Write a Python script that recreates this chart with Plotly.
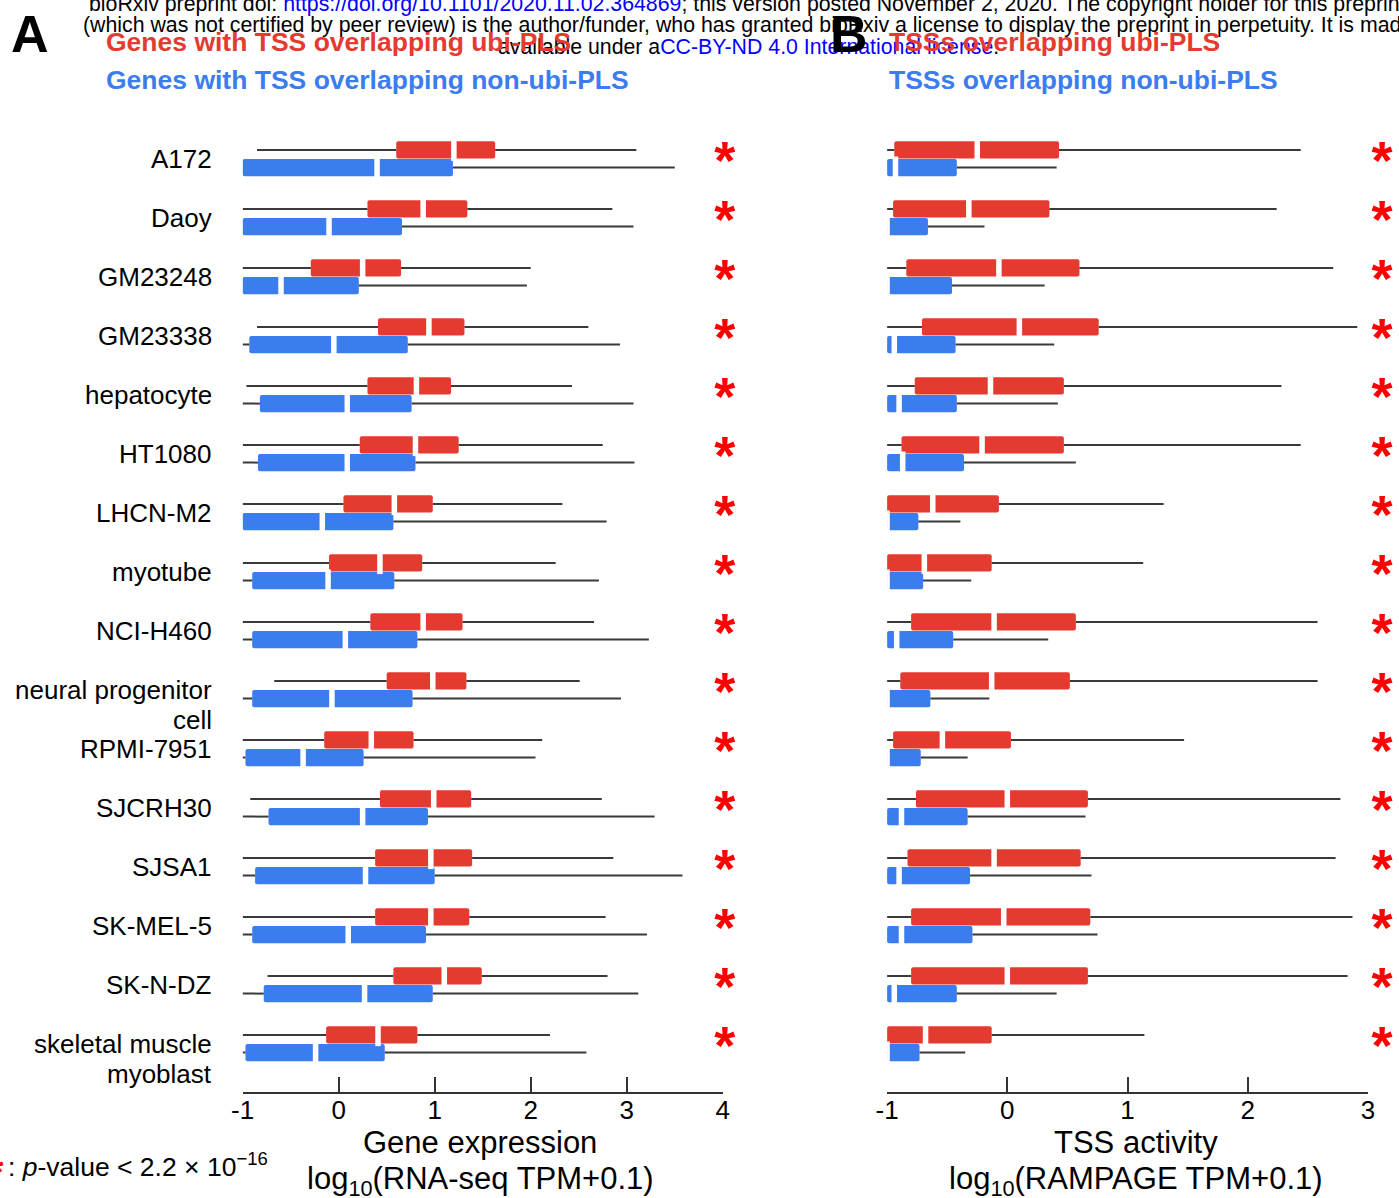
import plotly.graph_objects as go

W, H = 1399, 1198
FONT = "Liberation Sans, Arial, Helvetica, sans-serif"
RED = "#E53A30"
BLUE = "#3B7DEE"
WHISK = "#3a3a3a"

categories = ["A172", "Daoy", "GM23248", "GM23338", "hepatocyte", "HT1080", "LHCN-M2",
              "myotube", "NCI-H460", "neural progenitor cell", "RPMI-7951", "SJCRH30",
              "SJSA1", "SK-MEL-5", "SK-N-DZ", "skeletal muscle myoblast"]
label_lines = [["A172"], ["Daoy"], ["GM23248"], ["GM23338"], ["hepatocyte"], ["HT1080"],
               ["LHCN-M2"], ["myotube"], ["NCI-H460"], ["neural progenitor", "cell"],
               ["RPMI-7951"], ["SJCRH30"], ["SJSA1"], ["SK-MEL-5"], ["SK-N-DZ"],
               ["skeletal muscle", "myoblast"]]

# Panel A: gene expression, log10(RNA-seq TPM+0.1)
a_ubi_lo = [-0.85, -1.0, -1.0, -0.85, -0.96, -1.0, -1.0, -1.0, -1.0, -0.67, -1.0, -0.92, -1.0, -1.0, -0.74, -1.0]
a_ubi_q1 = [0.60, 0.30, -0.29, 0.41, 0.30, 0.22, 0.05, -0.10, 0.33, 0.50, -0.15, 0.43, 0.38, 0.38, 0.57, -0.13]
a_ubi_med = [1.20, 0.88, 0.25, 0.94, 0.81, 0.80, 0.58, 0.43, 0.88, 0.98, 0.34, 0.99, 0.96, 0.96, 1.10, 0.41]
a_ubi_q3 = [1.63, 1.34, 0.65, 1.31, 1.17, 1.25, 0.98, 0.87, 1.29, 1.33, 0.78, 1.38, 1.39, 1.36, 1.49, 0.82]
a_ubi_hi = [3.10, 2.85, 2.00, 2.60, 2.43, 2.75, 2.33, 2.26, 2.66, 2.51, 2.12, 2.74, 2.86, 2.78, 2.80, 2.20]

a_non_lo = [-1.0] * 16
a_non_q1 = [-1.0, -1.0, -1.0, -0.93, -0.82, -0.84, -1.0, -0.90, -0.90, -0.90, -0.97, -0.73, -0.87, -0.90, -0.78, -0.97]
a_non_med = [0.40, -0.10, -0.60, -0.05, 0.09, 0.09, -0.17, -0.11, 0.07, -0.07, -0.37, 0.25, 0.28, 0.10, 0.27, -0.24]
a_non_q3 = [1.19, 0.66, 0.21, 0.72, 0.76, 0.80, 0.57, 0.58, 0.82, 0.77, 0.26, 0.93, 1.00, 0.91, 0.98, 0.48]
a_non_hi = [3.50, 3.07, 1.96, 2.93, 3.07, 3.08, 2.79, 2.71, 3.23, 2.94, 2.05, 3.29, 3.58, 3.21, 3.12, 2.58]

# Panel B: TSS activity, log10(RAMPAGE TPM+0.1)
b_ubi_lo = [-1.0] * 16
b_ubi_q1 = [-0.94, -0.95, -0.84, -0.71, -0.77, -0.88, -1.0, -1.0, -0.80, -0.89, -0.95, -0.76, -0.83, -0.80, -0.80, -1.0]
b_ubi_med = [-0.25, -0.32, -0.07, 0.10, -0.14, -0.21, -0.62, -0.69, -0.11, -0.13, -0.54, 0.00, -0.11, -0.03, 0.00, -0.68]
b_ubi_q3 = [0.43, 0.35, 0.60, 0.76, 0.47, 0.47, -0.07, -0.13, 0.57, 0.52, 0.03, 0.67, 0.61, 0.69, 0.67, -0.13]
b_ubi_hi = [2.44, 2.24, 2.71, 2.91, 2.28, 2.44, 1.30, 1.13, 2.58, 2.58, 1.47, 2.77, 2.73, 2.87, 2.83, 1.14]

b_non_lo = [-1.0] * 16
b_non_q1 = [-1.0] * 16
b_non_med = [-0.93, -1.0, -1.0, -0.94, -0.90, -0.87, -1.0, -1.0, -0.92, -1.0, -1.0, -0.88, -0.90, -0.88, -0.94, -1.0]
b_non_q3 = [-0.42, -0.66, -0.46, -0.43, -0.42, -0.36, -0.74, -0.70, -0.45, -0.64, -0.72, -0.33, -0.31, -0.29, -0.42, -0.73]
b_non_hi = [0.41, -0.19, 0.31, 0.39, 0.42, 0.57, -0.39, -0.30, 0.34, -0.15, -0.33, 0.65, 0.70, 0.75, 0.41, -0.35]

significant = [True] * 16

rows = list(range(len(categories)))
OFF = 0.15

# observed horizontal calibration of the rendered page (x_rendered = CA + CB * x_set)
CA, CB = 11.5, 0.986


def px(x):
    return min(1.0, (x - CA) / CB / W)


def py(y):
    return 1 - y / H


fig = go.Figure()


def add_boxes(lo, q1, med, q3, hi, color, dy, xa, ya):
    ys = [r + dy for r in rows]
    fig.add_trace(go.Bar(
        orientation="h", y=ys, x=[b - a for a, b in zip(q1, q3)], base=q1,
        width=0.29, marker=dict(color=color, line=dict(width=0), cornerradius=2),
        xaxis=xa, yaxis=ya, showlegend=False, hoverinfo="skip"))
    wx, wy = [], []
    for i, y in enumerate(ys):
        if q1[i] > lo[i]:
            wx += [lo[i], q1[i], None]
            wy += [y, y, None]
        if hi[i] > q3[i]:
            wx += [q3[i], hi[i], None]
            wy += [y, y, None]
    fig.add_trace(go.Scatter(
        x=wx, y=wy, mode="lines", line=dict(color=WHISK, width=2),
        xaxis=xa, yaxis=ya, showlegend=False, hoverinfo="skip"))
    fig.add_trace(go.Scatter(
        x=med, y=ys, mode="markers",
        marker=dict(symbol="line-ns", size=16, line=dict(color="white", width=5.5)),
        xaxis=xa, yaxis=ya, showlegend=False, hoverinfo="skip"))


add_boxes(a_ubi_lo, a_ubi_q1, a_ubi_med, a_ubi_q3, a_ubi_hi, RED, -OFF, "x", "y")
add_boxes(a_non_lo, a_non_q1, a_non_med, a_non_q3, a_non_hi, BLUE, OFF, "x", "y")
add_boxes(b_ubi_lo, b_ubi_q1, b_ubi_med, b_ubi_q3, b_ubi_hi, RED, -OFF, "x2", "y2")
add_boxes(b_non_lo, b_non_q1, b_non_med, b_non_q3, b_non_hi, BLUE, OFF, "x2", "y2")

# significance stars (on small helper axes placed right of each panel)
sig_rows = [r for r, s in zip(rows, significant) if s]
for xa, ya in [("x3", "y"), ("x4", "y2")]:
    fig.add_trace(go.Scatter(
        x=[0.5] * len(sig_rows), y=[r + 0.12 for r in sig_rows], mode="text",
        text=["<b>*</b>"] * len(sig_rows), textposition="middle center",
        textfont=dict(family=FONT, size=54, color="#FF0000"), cliponaxis=False,
        xaxis=xa, yaxis=ya, showlegend=False, hoverinfo="skip"))

y_top, y_bot = 123.35, 1092.0
row0 = 158.75
pitch = 59.0
yr = [(y_bot - row0) / pitch, -(row0 - y_top) / pitch]
ydom = [py(y_bot), py(y_top)]

axis_common = dict(ticks="inside", ticklen=15, tickwidth=2, tickcolor="#333",
                   showline=True, linewidth=2, linecolor="#333", showgrid=False,
                   zeroline=False, ticklabelstandoff=-6,
                   tickfont=dict(family=FONT, size=26, color="black"))
fig.update_layout(
    width=W, height=H, margin=dict(l=0, r=0, t=0, b=0),
    plot_bgcolor="white", paper_bgcolor="white", barmode="overlay",
    font=dict(family=FONT, color="black"),
    xaxis=dict(domain=[px(242), px(722)], range=[-1, 4], tickvals=[-1, 0, 1, 2, 3, 4],
               ticktext=["-1", "0", "1", "2", "3", "4"], anchor="y", **axis_common),
    xaxis2=dict(domain=[px(886.2), px(1367)], range=[-1, 3], tickvals=[-1, 0, 1, 2, 3],
                ticktext=["-1", "0", "1", "2", "3"], anchor="y2", **axis_common),
    xaxis3=dict(domain=[px(714), px(734)], range=[0, 1], anchor="y", visible=False),
    xaxis4=dict(domain=[px(1372), px(1390)], range=[0, 1], anchor="y2", visible=False),
    yaxis=dict(domain=ydom, range=yr, visible=False, anchor="x"),
    yaxis2=dict(domain=ydom, range=yr, visible=False, anchor="x2"),
)

ann = []


def text(x, y, t, size, color="black", xanchor="left", yanchor="middle", yref="paper", yshift=0):
    ann.append(dict(x=(x - CA) / CB / W, y=(py(y) if yref == "paper" else y), xref="paper", yref=yref,
                    text=t, showarrow=False, xanchor=xanchor, yanchor=yanchor, yshift=yshift,
                    font=dict(family=FONT, size=size, color=color)))


# bioRxiv header
LINK = "#0000ff"
text(86, 4, "bioRxiv preprint doi: <span style='color:%s'>https://doi.org/10.1101/2020.11.02.364869</span>; "
     "this version posted November 2, 2020. The copyright holder for this preprint" % LINK, 21.3)
text(80, 25, "(which was not certified by peer review) is the author/funder, who has granted bioRxiv a license "
     "to display the preprint in perpetuity. It is made", 21.3)
text(495, 47, "available under a<span style='color:%s'>CC-BY-ND 4.0 International license</span>." % LINK, 21.3)

# panel letters
text(29, 34, "<b>A</b>", 52, xanchor="center")
text(848, 34, "<b>B</b>", 52, xanchor="center")

# legends / titles
text(103, 42, "<b>Genes with TSS overlapping ubi-PLS</b>", 26.5, RED)
text(103, 80, "<b>Genes with TSS overlapping non-ubi-PLS</b>", 26.5, BLUE)
text(886, 42, "<b>TSSs overlapping ubi-PLS</b>", 26.5, RED)
text(886, 80, "<b>TSSs overlapping non-ubi-PLS</b>", 26.5, BLUE)

# category labels
for r, lines in zip(rows, label_lines):
    for k, ln in enumerate(lines):
        text(213, r, ln, 26, xanchor="right", yref="y", yshift=-30 * k)

# axis titles
text(479, 1142, "Gene expression", 31, xanchor="center")
text(480, 1181, "log<sub>10</sub>(RNA-seq TPM+0.1)", 31, xanchor="center")
text(1135, 1142, "TSS activity", 31, xanchor="center")
text(1135, 1181, "log<sub>10</sub>(RAMPAGE TPM+0.1)", 31, xanchor="center")

# p-value note
text(-4, 1172, "<b>*</b>", 40, "#FF0000", xanchor="center")
text(6, 1165, ": <i>p</i>-value &lt; 2.2 × 10<sup>−16</sup>", 26.5)

fig.update_layout(annotations=ann)
fig.write_html("out.html")
